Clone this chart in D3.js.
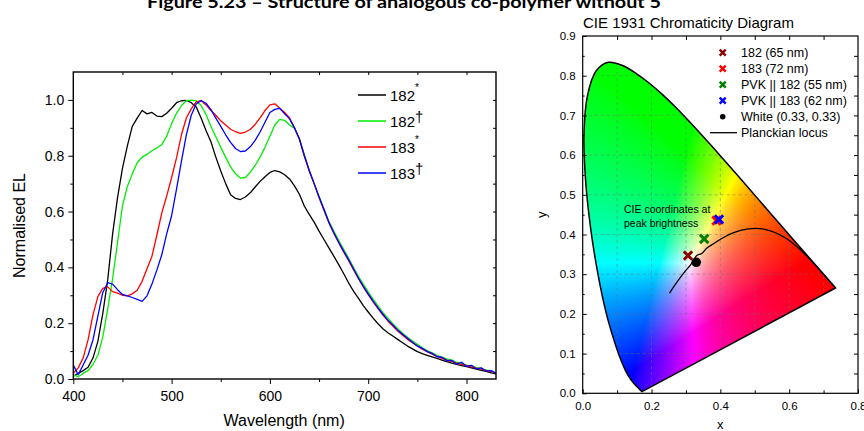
<!DOCTYPE html>
<html><head><meta charset="utf-8">
<script src="https://cdn.jsdelivr.net/npm/d3@7"></script>
<style>
body{margin:0;background:#fff}
svg{display:block}
text{font-family:"Liberation Sans",Arial,sans-serif;fill:#000}
</style>
</head><body>
<svg id="c" width="864" height="431"></svg>
<script>
// ---------------- DATA ----------------
const titleText = "Figure 5.23 \u2013 Structure of analogous co-polymer without 5";

const wavelength = [400,405,410,415,420,425,430,435,440,445,
450,455,460,465,470,475,480,485,490,495,
500,505,510,515,520,525,530,535,540,545,
550,555,560,565,570,575,580,585,590,595,
600,605,610,615,620,625,630,635,640,645,
650,655,660,665,670,675,680,685,690,695,
700,705,710,715,720,725,730,735,740,745,
750,755,760,765,770,775,780,785,790,795,
800,805,810,815,820,825,830];

const el182star = [0.010,0.020,0.030,0.042,0.075,0.135,0.235,0.355,0.520,0.650,
0.755,0.835,0.905,0.935,0.962,0.950,0.955,0.942,0.940,0.952,
0.970,0.990,0.997,0.998,0.990,0.975,0.935,0.890,0.850,0.795,
0.745,0.700,0.660,0.647,0.643,0.652,0.667,0.688,0.708,0.725,
0.740,0.747,0.742,0.732,0.717,0.692,0.662,0.620,0.590,0.562,
0.530,0.500,0.470,0.440,0.410,0.378,0.345,0.315,0.290,0.263,
0.240,0.218,0.198,0.180,0.166,0.154,0.142,0.130,0.118,0.108,
0.098,0.091,0.085,0.079,0.074,0.068,0.062,0.057,0.052,0.048,
0.044,0.040,0.035,0.031,0.027,0.022,0.018];

const el182dagger = [0.015,0.008,0.020,0.030,0.052,0.085,0.150,0.250,0.360,0.490,
0.620,0.690,0.735,0.775,0.795,0.805,0.818,0.828,0.840,0.870,
0.915,0.952,0.980,0.997,0.999,0.997,0.980,0.948,0.905,0.868,
0.830,0.795,0.760,0.735,0.720,0.722,0.740,0.765,0.795,0.830,
0.870,0.910,0.930,0.927,0.910,0.898,0.862,0.805,0.748,0.700,
0.655,0.610,0.565,0.530,0.497,0.465,0.433,0.400,0.368,0.340,
0.312,0.286,0.262,0.238,0.218,0.198,0.180,0.164,0.150,0.136,
0.124,0.112,0.102,0.094,0.085,0.078,0.072,0.068,0.060,0.056,
0.050,0.047,0.041,0.038,0.032,0.030,0.022];

const el183star = [0.020,0.040,0.075,0.140,0.230,0.295,0.325,0.330,0.313,0.308,
0.300,0.298,0.305,0.318,0.350,0.395,0.440,0.515,0.595,0.655,
0.722,0.792,0.875,0.935,0.968,0.993,0.997,0.982,0.962,0.945,
0.925,0.910,0.895,0.886,0.880,0.885,0.894,0.912,0.936,0.962,
0.982,0.986,0.970,0.955,0.935,0.900,0.860,0.800,0.745,0.700,
0.650,0.605,0.560,0.522,0.488,0.455,0.425,0.392,0.360,0.330,
0.302,0.276,0.252,0.229,0.208,0.190,0.172,0.157,0.142,0.130,
0.118,0.107,0.098,0.089,0.081,0.074,0.068,0.062,0.057,0.052,
0.048,0.043,0.039,0.035,0.031,0.027,0.021];

const el183dagger = [0.050,0.015,0.050,0.085,0.140,0.225,0.310,0.345,0.340,0.320,
0.303,0.298,0.292,0.285,0.278,0.298,0.340,0.390,0.445,0.520,
0.585,0.680,0.780,0.875,0.945,0.985,0.998,0.988,0.965,0.935,
0.905,0.875,0.848,0.826,0.815,0.817,0.832,0.855,0.885,0.920,
0.955,0.966,0.970,0.950,0.932,0.900,0.860,0.800,0.748,0.700,
0.652,0.607,0.562,0.524,0.490,0.458,0.428,0.395,0.362,0.332,
0.305,0.279,0.255,0.232,0.211,0.194,0.175,0.160,0.146,0.132,
0.118,0.110,0.098,0.092,0.080,0.078,0.066,0.067,0.053,0.060,
0.045,0.049,0.036,0.040,0.028,0.030,0.020];

const elSeriesNames = ["182", "182", "183", "183"];
const elSeriesMarks = ["*", "\u2020", "*", "\u2020"];
const xTicksEL = [400,500,600,700,800];
const yTicksEL = [0.0,0.2,0.4,0.6,0.8,1.0];

// CIE 1931 spectral locus (x, y) 380..700 nm
const locusX = [0.1741,0.1740,0.1738,0.1736,0.1733,0.1730,0.1726,0.1721,0.1714,0.1703,0.1689,0.1669,0.1644,0.1611,0.1566,0.1510,0.1440,0.1355,0.1241,0.1096,0.0913,0.0687,0.0454,0.0235,0.0082,0.0039,0.0139,0.0389,0.0743,0.1142,0.1547,0.1929,0.2296,0.2658,0.3016,0.3373,0.3731,0.4087,0.4441,0.4788,0.5125,0.5448,0.5752,0.6029,0.6270,0.6482,0.6658,0.6801,0.6915,0.7006,0.7079,0.7140,0.7190,0.7230,0.7260,0.7283,0.7300,0.7311,0.7320,0.7334,0.7344,0.7347];
const locusY = [0.0050,0.0050,0.0049,0.0049,0.0048,0.0048,0.0048,0.0048,0.0051,0.0058,0.0069,0.0086,0.0109,0.0138,0.0177,0.0227,0.0297,0.0399,0.0578,0.0868,0.1327,0.2007,0.2950,0.4127,0.5384,0.6548,0.7502,0.8120,0.8338,0.8262,0.8059,0.7816,0.7543,0.7243,0.6923,0.6589,0.6245,0.5896,0.5547,0.5202,0.4866,0.4544,0.4242,0.3965,0.3725,0.3514,0.3340,0.3197,0.3083,0.2993,0.2920,0.2859,0.2809,0.2770,0.2740,0.2717,0.2700,0.2689,0.2680,0.2666,0.2656,0.2653];

// Planckian locus (high T -> low T)
const planckX = [0.2524,0.2637,0.2807,0.2952,0.3135,0.3324,0.3451,0.3611,0.3805,0.4053,0.4369,0.4770,0.5267,0.5857,0.6251,0.6528,0.6915,0.7190,0.7350];
const planckY = [0.2522,0.2674,0.2884,0.3048,0.3237,0.3475,0.3516,0.3658,0.3768,0.3907,0.4041,0.4137,0.4133,0.3931,0.3674,0.3444,0.3082,0.2808,0.2650];

const cieLabels = ["182 (65 nm)", "183 (72 nm)", "PVK || 182 (55 nm)", "PVK || 183 (62 nm)"];
const cieX = [0.306, 0.389, 0.353, 0.396];
const cieY = [0.347, 0.435, 0.389, 0.438];
const whiteLabel = "White (0.33, 0.33)";
const whiteX = [0.33];
const whiteY = [0.33];
const xTicksCIE = [0.0,0.2,0.4,0.6,0.8];
const yTicksCIE = [0.0,0.1,0.2,0.3,0.4,0.5,0.6,0.7,0.8,0.9];

// ---------------- DRAW ----------------
const svg = d3.select("#c");

// Title (clipped at the top)
svg.append("text").attr("x", 147).attr("y", 7.5)
  .attr("textLength", 514).attr("lengthAdjust", "spacingAndGlyphs")
  .style("font-family", "Lato, 'Liberation Sans', sans-serif")
  .style("font-weight", "700").style("font-size", "17px").text(titleText);

// ===== Left panel: EL spectra =====
const L = {l:73.3, r:496, t:72, b:379};
const x1 = d3.scaleLinear().domain([400,830]).range([L.l, L.r]);
const y1 = d3.scaleLinear().domain([0,1.1]).range([L.b, L.t]);

const gL = svg.append("g");
svg.append("clipPath").attr("id","clipL").append("rect")
  .attr("x",L.l).attr("y",L.t).attr("width",L.r-L.l).attr("height",L.b-L.t);

const elColors = ["#000000", "#00ee00", "#ff0000", "#0000ff"];
const elData = [el182star, el182dagger, el183star, el183dagger];
const line1 = d3.line().x((d,i)=>x1(wavelength[i])).y(d=>y1(d));
const gLines = gL.append("g").attr("clip-path","url(#clipL)");
elData.forEach((s,k)=>{
  gLines.append("path").attr("d", line1(s)).attr("fill","none")
    .attr("stroke", elColors[k]).attr("stroke-width",1.3).attr("stroke-linejoin","round");
});

// axes
function styleAxis(g, fs){
  g.select(".domain").remove();
  g.selectAll("line").attr("stroke","#000").attr("stroke-width",1);
  g.selectAll("text").style("font-size", fs).style("font-family","'Liberation Sans',Arial,sans-serif");
}
gL.append("g").attr("transform",`translate(0,${L.b})`)
  .call(d3.axisBottom(x1).tickValues(xTicksEL).tickFormat(d3.format("d")).tickSize(5).tickSizeOuter(0).tickPadding(7))
  .call(g=>styleAxis(g,"14px"));
gL.append("g").attr("transform",`translate(0,${L.b})`)
  .call(d3.axisBottom(x1).tickValues([450,550,650,750]).tickFormat("").tickSize(3).tickSizeOuter(0))
  .call(g=>styleAxis(g,"14px"));
gL.append("g").attr("transform",`translate(${L.l},0)`)
  .call(d3.axisLeft(y1).tickValues(yTicksEL).tickFormat(d3.format(".1f")).tickSize(5).tickSizeOuter(0).tickPadding(4))
  .call(g=>styleAxis(g,"14px"));
gL.append("g").attr("transform",`translate(${L.l},0)`)
  .call(d3.axisLeft(y1).tickValues([0.1,0.3,0.5,0.7,0.9]).tickFormat("").tickSize(3).tickSizeOuter(0))
  .call(g=>styleAxis(g,"14px"));
gL.append("g").attr("transform",`translate(0,${L.t})`)
  .call(d3.axisTop(x1).tickValues([450,500,550,600,650,700,750,800]).tickFormat("").tickSize(-3).tickSizeOuter(0))
  .call(g=>styleAxis(g,"14px"));
gL.append("g").attr("transform",`translate(${L.r},0)`)
  .call(d3.axisRight(y1).tickValues([0.1,0.2,0.3,0.4,0.5,0.6,0.7,0.8,0.9,1.0]).tickFormat("").tickSize(-3).tickSizeOuter(0))
  .call(g=>styleAxis(g,"14px"));
gL.append("rect").attr("x",L.l).attr("y",L.t).attr("width",L.r-L.l).attr("height",L.b-L.t)
  .attr("fill","none").attr("stroke","#000").attr("stroke-width",1.4);

gL.append("text").attr("x",(L.l+L.r)/2 - 0.5).attr("y",425.5).attr("text-anchor","middle")
  .style("font-size","16px").text("Wavelength (nm)");
gL.append("text").attr("transform",`translate(24.5,${(L.t+L.b)/2}) rotate(-90)`).attr("text-anchor","middle")
  .style("font-size","16px").text("Normalised EL");

// legend
const legL = gL.append("g");
elData.forEach((s,k)=>{
  const yy = 95 + k*26;
  legL.append("line").attr("x1",358).attr("x2",386).attr("y1",yy).attr("y2",yy)
    .attr("stroke",elColors[k]).attr("stroke-width",1.5);
  const t = legL.append("text").attr("x",390).attr("y",yy+5.5).style("font-size","15px");
  t.append("tspan").text(elSeriesNames[k]);
  if (elSeriesMarks[k] === "*") {
    t.append("tspan").attr("dy",-10).style("font-size","10px").text("*");
  } else {
    t.append("tspan").attr("dy",-5).style("font-size","15px").text("\u2020");
  }
});

// ===== Right panel: CIE diagram =====
const R = {l:582.7, r:858, t:36, b:393.3};
const x2 = d3.scaleLinear().domain([0,0.8]).range([R.l, R.r]);
const y2 = d3.scaleLinear().domain([0,0.9]).range([R.b, R.t]);
const gR = svg.append("g");

const locusPts = locusX.map((v,i)=>[v, locusY[i]]);
const locusLine = d3.line().x(d=>x2(d[0])).y(d=>y2(d[1])).curve(d3.curveCatmullRom.alpha(0.5));
const locusD = locusLine(locusPts) + "Z";

svg.append("clipPath").attr("id","clipLocus").append("path").attr("d", locusD);

// color fill via canvas (linear, max-normalised sRGB)
const cw = Math.ceil(R.r - R.l), ch = Math.ceil(R.b - R.t);
const cv = document.createElement("canvas");
cv.width = cw; cv.height = ch;
const ctx = cv.getContext("2d");
const img = ctx.createImageData(cw, ch);
function enc(c){ return Math.pow(c, 0.8); }
for (let j=0;j<ch;j++){
  for (let i=0;i<cw;i++){
    const cx = x2.invert(R.l + i + 0.5), cy = y2.invert(R.t + j + 0.5);
    const idx = (j*cw + i)*4;
    if (cy <= 0.002) { img.data[idx+3]=0; continue; }
    const X = cx/cy, Y = 1, Z = (1-cx-cy)/cy;
    let r = 3.2406*X - 1.5372*Y - 0.4986*Z;
    let g = -0.9689*X + 1.8758*Y + 0.0415*Z;
    let b = 0.0557*X - 0.2040*Y + 1.0570*Z;
    r = Math.max(r,0); g = Math.max(g,0); b = Math.max(b,0);
    const m = Math.max(r,g,b) || 1;
    img.data[idx] = Math.round(255*enc(r/m));
    img.data[idx+1] = Math.round(255*enc(g/m));
    img.data[idx+2] = Math.round(255*enc(b/m));
    img.data[idx+3] = 255;
  }
}
ctx.putImageData(img,0,0);
gR.append("image").attr("x",R.l).attr("y",R.t).attr("width",cw).attr("height",ch)
  .attr("preserveAspectRatio","none")
  .attr("href", cv.toDataURL()).attr("clip-path","url(#clipLocus)");

// grid (visible on the colour fill)
const gGrid = gR.append("g").attr("clip-path","url(#clipLocus)");
[0.1,0.2,0.3,0.4,0.5,0.6,0.7].forEach(v=>{
  gGrid.append("line").attr("x1",x2(v)).attr("x2",x2(v)).attr("y1",R.t).attr("y2",R.b)
    .attr("stroke","rgba(110,110,110,0.45)").attr("stroke-dasharray","3,3");
});
[0.1,0.2,0.3,0.4,0.5,0.6,0.7,0.8].forEach(v=>{
  gGrid.append("line").attr("y1",y2(v)).attr("y2",y2(v)).attr("x1",R.l).attr("x2",R.r)
    .attr("stroke","rgba(110,110,110,0.45)").attr("stroke-dasharray","3,3");
});

gR.append("path").attr("d", locusD).attr("fill","none").attr("stroke","#000").attr("stroke-width",1.5);

// planckian locus
const pl = d3.line().x((d,i)=>x2(d)).y((d,i)=>y2(planckY[i])).curve(d3.curveCatmullRom.alpha(0.5));
gR.append("path").attr("d", pl(planckX)).attr("fill","none").attr("stroke","#000").attr("stroke-width",1.3);

// markers
function drawX(g, cx, cy, s, color, w){
  g.append("path").attr("d",`M${cx-s},${cy-s}L${cx+s},${cy+s}M${cx-s},${cy+s}L${cx+s},${cy-s}`)
    .attr("stroke",color).attr("stroke-width",w).attr("fill","none");
}
const cieColors = ["#8b0000", "#ff0000", "#008000", "#0000ff"];
const drawOrder = [0,2,1,3];
drawOrder.forEach(k=> drawX(gR, x2(cieX[k]), y2(cieY[k]), 4.2, cieColors[k], 3));
gR.append("circle").attr("cx",x2(whiteX[0])).attr("cy",y2(whiteY[0])).attr("r",4.8).attr("fill","#000");

// annotation
gR.append("text").attr("x",624).attr("y",212.5).style("font-size","10.5px").text("CIE coordinates at");
gR.append("text").attr("x",624).attr("y",226.5).style("font-size","10.5px").text("peak brightness");

// axes (inward ticks)
gR.append("g").attr("transform",`translate(0,${R.b})`)
  .call(d3.axisBottom(x2).tickValues(xTicksCIE).tickFormat(d3.format(".1f")).tickSize(-4).tickSizeOuter(0).tickPadding(9))
  .call(g=>styleAxis(g,"11.5px"));
gR.append("g").attr("transform",`translate(0,${R.b})`)
  .call(d3.axisBottom(x2).tickValues([0.1,0.3,0.5,0.7]).tickFormat("").tickSize(-3).tickSizeOuter(0))
  .call(g=>styleAxis(g,"11.5px"));
gR.append("g").attr("transform",`translate(0,${R.t})`)
  .call(d3.axisTop(x2).tickValues([0.1,0.2,0.3,0.4,0.5,0.6,0.7]).tickFormat("").tickSize(-4).tickSizeOuter(0))
  .call(g=>styleAxis(g,"11.5px"));
gR.append("g").attr("transform",`translate(${R.l},0)`)
  .call(d3.axisLeft(y2).tickValues(yTicksCIE).tickFormat(d3.format(".1f")).tickSize(-4).tickSizeOuter(0).tickPadding(7))
  .call(g=>styleAxis(g,"11.5px"));
gR.append("g").attr("transform",`translate(${R.l},0)`)
  .call(d3.axisLeft(y2).tickValues([0.05,0.15,0.25,0.35,0.45,0.55,0.65,0.75,0.85]).tickFormat("").tickSize(-2).tickSizeOuter(0))
  .call(g=>styleAxis(g,"11.5px"));
gR.append("g").attr("transform",`translate(${R.r},0)`)
  .call(d3.axisRight(y2).tickValues([0.05,0.1,0.15,0.2,0.25,0.3,0.35,0.4,0.45,0.5,0.55,0.6,0.65,0.7,0.75,0.8,0.85]).tickFormat("").tickSize(-4).tickSizeOuter(0))
  .call(g=>styleAxis(g,"11.5px"));
gR.append("rect").attr("x",R.l).attr("y",R.t).attr("width",R.r-R.l).attr("height",R.b-R.t)
  .attr("fill","none").attr("stroke","#000").attr("stroke-width",1.2);

gR.append("text").attr("x",583).attr("y",28).style("font-size","15px").text("CIE 1931 Chromaticity Diagram");
gR.append("text").attr("x",x2(0.4)).attr("y",429).attr("text-anchor","middle").style("font-size","13px").text("x");
gR.append("text").attr("transform",`translate(545.5,${y2(0.45)}) rotate(-90)`).attr("text-anchor","middle")
  .style("font-size","13px").text("y");

// legend
const legR = gR.append("g");
cieLabels.forEach((lab,k)=>{
  const yy = 52.7 + k*16;
  drawX(legR, 722.7, yy, 3, cieColors[k], 2.4);
  legR.append("text").attr("x",741).attr("y",yy+4.5).style("font-size","12.5px").text(lab);
});
legR.append("circle").attr("cx",722.7).attr("cy",116.7).attr("r",2.8).attr("fill","#000");
legR.append("text").attr("x",741).attr("y",121.2).style("font-size","12.5px").text(whiteLabel);
legR.append("line").attr("x1",710).attr("x2",737).attr("y1",132.7).attr("y2",132.7).attr("stroke","#000").attr("stroke-width",1.3);
legR.append("text").attr("x",741).attr("y",137.2).style("font-size","12.5px").text("Planckian locus");
</script>
</body></html>
